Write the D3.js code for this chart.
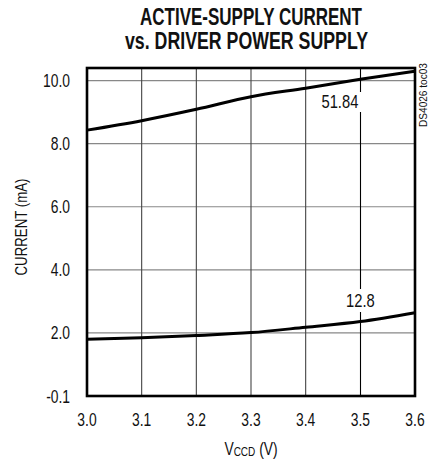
<!DOCTYPE html>
<html>
<head>
<meta charset="utf-8">
<script src="https://cdn.jsdelivr.net/npm/d3@7"></script>
<style>
  html, body { margin: 0; padding: 0; background: #fff; }
  svg { display: block; }
  text { font-family: "Liberation Sans", Arial, Helvetica, sans-serif; fill: #111; }
</style>
</head>
<body>
<svg id="chart" width="443" height="463"></svg>
<script>
// ---- data ----
const vccd = [3.0, 3.1, 3.2, 3.3, 3.4, 3.5, 3.6];
const upperCurrent = [8.43, 8.73, 9.09, 9.49, 9.76, 10.04, 10.30];
const lowerCurrent = [1.80, 1.85, 1.92, 2.01, 2.18, 2.36, 2.64];
const xTickValues = [3.0, 3.1, 3.2, 3.3, 3.4, 3.5, 3.6];
const xTickLabels = ["3.0", "3.1", "3.2", "3.3", "3.4", "3.5", "3.6"];
const yTickValues = [0, 2, 4, 6, 8, 10];
const yTickLabels = ["-0.1", "2.0", "4.0", "6.0", "8.0", "10.0"];
const annotations = [
  { x: 3.5, label: "51.84", series: "upper" },
  { x: 3.5, label: "12.8", series: "lower" }
];

(function () {
const svg = d3.select("#chart");
const pL = 87, pR = 415, pT = 68, pB = 396;
const x = d3.scaleLinear().domain([3.0, 3.6]).range([pL, pR]);
const y = d3.scaleLinear().domain([0, 10.4]).range([pB, pT]);
const SX = 0.77;

function txt(parent, tx, ty, str, size, anchor, sx, rot) {
  const g = parent.append("g")
    .attr("transform", `translate(${tx},${ty})` + (rot ? ` rotate(${rot})` : "") + ` scale(${sx},1)`);
  return g.append("text").attr("x", 0).attr("y", 0)
    .attr("text-anchor", anchor).attr("font-size", size).text(str);
}

// title
svg.append("text").attr("x", 251).attr("y", 25).attr("text-anchor", "middle")
  .attr("font-size", 23).attr("font-weight", "bold")
  .attr("textLength", 222).attr("lengthAdjust", "spacingAndGlyphs")
  .text("ACTIVE-SUPPLY CURRENT");
svg.append("text").attr("x", 246.5).attr("y", 49).attr("text-anchor", "middle")
  .attr("font-size", 23).attr("font-weight", "bold")
  .attr("textLength", 243).attr("lengthAdjust", "spacingAndGlyphs")
  .text("vs. DRIVER POWER SUPPLY");

// horizontal gridlines
svg.append("g").selectAll("line").data(yTickValues.filter(v => v > 0)).join("line")
  .attr("x1", pL).attr("x2", pR)
  .attr("y1", d => y(d)).attr("y2", d => y(d))
  .attr("stroke", "#888").attr("stroke-width", 1.2);

// vertical gridlines
const vGrid = xTickValues.filter(v => v > 3.0 && v < 3.6);
svg.append("g").selectAll("line").data(vGrid.filter(v => v !== 3.5)).join("line")
  .attr("x1", d => x(d)).attr("x2", d => x(d))
  .attr("y1", pT).attr("y2", pB)
  .attr("stroke", "#444").attr("stroke-width", 1.1);

// 3.5 gridline, broken around annotation labels
const x35 = Math.round(x(3.5)) + 0.5;
const segs = [[pT, 92], [112, 289], [312, pB]];
svg.append("g").selectAll("line").data(segs).join("line")
  .attr("x1", x35).attr("x2", x35)
  .attr("y1", d => d[0]).attr("y2", d => d[1])
  .attr("stroke", "#000").attr("stroke-width", 1.1);

// curves
const line = d3.line().x((d, i) => x(vccd[i])).y(d => y(d)).curve(d3.curveMonotoneX);
svg.append("path").datum(upperCurrent).attr("d", line)
  .attr("fill", "none").attr("stroke", "#000").attr("stroke-width", 3);
svg.append("path").datum(lowerCurrent).attr("d", line)
  .attr("fill", "none").attr("stroke", "#000").attr("stroke-width", 3);

// frame
svg.append("rect").attr("x", pL).attr("y", pT)
  .attr("width", pR - pL).attr("height", pB - pT)
  .attr("fill", "none").attr("stroke", "#000").attr("stroke-width", 2.6);

// annotations
txt(svg, x(annotations[0].x) - 2, 108, annotations[0].label, 18, "end", 0.82);
txt(svg, x(annotations[1].x), 307, annotations[1].label, 18, "middle", 0.82);

// y tick labels
yTickValues.forEach((v, i) => txt(svg, 70, y(v) + 6.5, yTickLabels[i], 18, "end", SX));

// x tick labels
xTickValues.forEach((v, i) => txt(svg, x(v), 426, xTickLabels[i], 18, "middle", SX));

// x axis title
const xt = txt(svg, 251, 455, "", 18, "middle", SX);
xt.append("tspan").text("V");
xt.append("tspan").attr("font-size", 13).attr("dy", 1).text("CCD");
xt.append("tspan").attr("dy", -1).text(" (V)");

// y axis title
txt(svg, 27, 227, "CURRENT (mA)", 17, "middle", 0.78, -90);

// side code label
svg.append("text").attr("transform", "translate(427,95) rotate(-90)")
  .attr("text-anchor", "middle").attr("font-size", 10)
  .attr("textLength", 64).attr("lengthAdjust", "spacingAndGlyphs")
  .text("DS4026 toc03");
})();
</script>
</body>
</html>
